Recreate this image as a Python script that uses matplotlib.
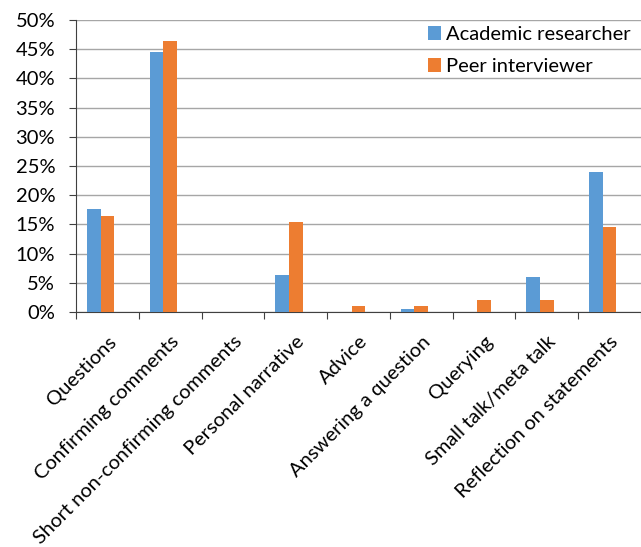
import numpy as np
import matplotlib.pyplot as plt
from matplotlib.ticker import MultipleLocator, FuncFormatter

# categorias y valores (%)
categorias = ['Questions', 'Confirming comments', 'Short non-confirming comments',
              'Personal narrative', 'Advice', 'Answering a question', 'Querying',
              'Small talk/meta talk', 'Reflection on statements']
academico = [17.6, 44.5, 0.0, 6.3, 0.0, 0.5, 0.0, 6.0, 24.0]
par = [16.5, 46.4, 0.0, 15.4, 1.0, 1.0, 2.0, 2.0, 14.6]
series = ['Academic researcher', 'Peer interviewer']

plt.rcParams['font.family'] = ['Lato', 'DejaVu Sans']
tam = 14.5

fig = plt.figure(figsize=(6.41, 5.47), dpi=100)
ax = fig.add_axes([76/641, 1 - 312/547, (641 - 76)/641, 292/547])

x = np.arange(len(categorias))
w = 0.219
ax.bar(x - w, academico, w, color='#5B9BD5', label=series[0], align='center', zorder=3)
ax.bar(x, par, w, color='#ED7D31', label=series[1], align='center', zorder=3)

ax.set_xlim(-0.5, -0.5 + (641 - 76)/64.05)
ax.set_ylim(0, 50)
ax.yaxis.set_major_locator(MultipleLocator(5))
ax.yaxis.set_major_formatter(FuncFormatter(lambda v, p: '{:.0f}%'.format(v)))
ax.grid(axis='y', color='#a6a6a6', linewidth=1, zorder=0)

for s in ['top', 'right']:
    ax.spines[s].set_visible(False)
ax.spines['left'].set_color('#404040')
ax.spines['bottom'].set_color('#404040')

# marcas entre categorias
ax.set_xticks(np.arange(len(categorias) + 1) - 0.5)
ax.set_xticklabels([])
ax.tick_params(axis='x', direction='out', length=5, color='#404040')
ax.tick_params(axis='y', direction='out', length=5, color='#404040', labelsize=tam, pad=10)

for i, c in enumerate(categorias):
    ax.annotate(c, xy=(i, 0), xycoords=('data', 'axes fraction'),
                xytext=(0, -15), textcoords='offset points',
                rotation=45, ha='right', va='top', rotation_mode='anchor',
                fontsize=tam)

ax.legend(loc='upper right', bbox_to_anchor=((631 - 76)/565, (312 - 26)/292), frameon=False,
          fontsize=tam, handlelength=0.65, handleheight=0.65, borderpad=0,
          handletextpad=0.25, labelspacing=0.75, borderaxespad=0.0)

plt.savefig('out.png', dpi=100)
